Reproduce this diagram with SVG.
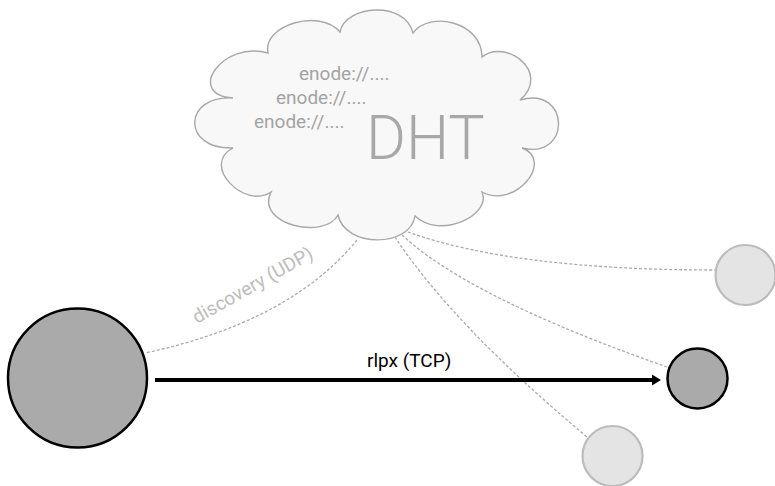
<svg xmlns="http://www.w3.org/2000/svg" width="775" height="486" viewBox="0 0 775 486">
<style>
.cloud{fill:#f8f8f8;stroke:#a8a8a8;stroke-width:1.4}
.enode{font-family:Roboto,"Liberation Sans",sans-serif;font-size:19px;fill:#a3a3a3}
.dht{font-family:Roboto,"Liberation Sans",sans-serif;font-size:61px;font-weight:300;fill:#a8a8a8}
.dash{fill:none;stroke:#ababab;stroke-width:1.3;stroke-dasharray:3 2}
.main{fill:#aaaaaa;stroke:#000;stroke-width:2.5}
.other{fill:#e4e4e4;stroke:#bcbcbc;stroke-width:2.2}
.lbl{font-family:Roboto,"Liberation Sans",sans-serif;font-size:19px}
</style>
<defs>
<marker id="ah" markerUnits="userSpaceOnUse" markerWidth="12" markerHeight="14" refX="0" refY="6" orient="auto">
<path d="M0,0.5 L9,6 L0,11.5 z" fill="#000"/>
</marker>
</defs>
<rect width="775" height="486" fill="#fff"/>
<g id="dht">
<path class="cloud" d="M268,53 C262,25 320,8 340,32 C345,5 405,0 413,33 C430,10 482,22 482,57 C505,38 552,72 520,100 C570,85 572,160 522,148 C555,160 515,210 482,192 C492,215 440,240 415,216 C410,248 345,248 338,215 C325,240 255,225 271,192 C245,210 200,165 233,148 C182,150 182,95 233,98 C185,95 222,40 268,53 Z"/>
<text class="enode" x="299" y="80">enode://....</text>
<text class="enode" x="276" y="104">enode://....</text>
<text class="enode" x="254" y="128">enode://....</text>
<text class="dht" x="366" y="159">DHT</text>
</g>
<g id="connectors">
<path class="dash" d="M357,240 Q290,322 145,353"/>
<path class="dash" d="M395,237 Q453,325 587,437"/>
<path class="dash" d="M402,235 Q470,298 667,367"/>
<path class="dash" d="M408,232 Q514,270 715,270"/>
<text class="lbl" fill="#bdbdbd" x="197" y="324" transform="rotate(-29.5 197 324)">discovery (UDP)</text>
<line x1="155" y1="380" x2="652" y2="380" stroke="#000" stroke-width="4.2" marker-end="url(#ah)"/>
<text class="lbl" fill="#000" font-size="20" x="367" y="367">rlpx (TCP)</text>
</g>
<g id="me"><circle class="main" cx="77.5" cy="378" r="69.5"/></g>
<g id="peer-rlpx"><circle class="main" cx="697.5" cy="378.5" r="30"/></g>
<g id="peer-top"><circle class="other" cx="745.5" cy="275" r="30"/></g>
<g id="peer-bottom"><circle class="other" cx="612.5" cy="456" r="30"/></g>
</svg>
